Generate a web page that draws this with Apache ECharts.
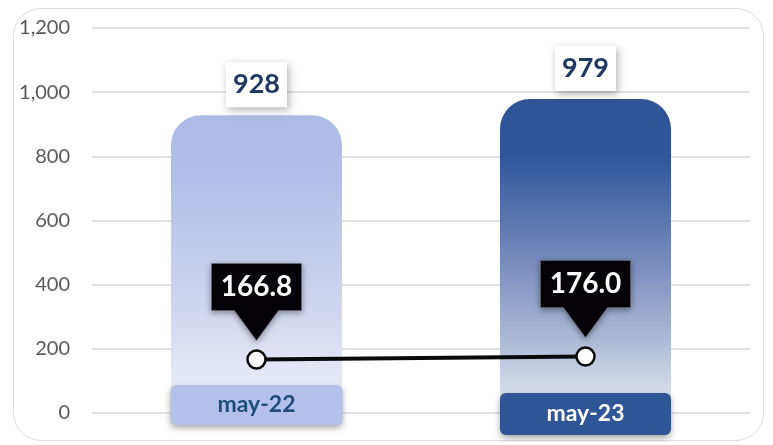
<!DOCTYPE html>
<html>
<head>
<meta charset="utf-8">
<script src="https://cdn.jsdelivr.net/npm/echarts@6/dist/echarts.min.js"></script>
<style>
  html, body { margin: 0; padding: 0; background: #fff; }
  #card {
    position: absolute; left: 13px; top: 8px; width: 751px; height: 433px;
    border: 1.5px solid #dedede; border-radius: 28px; box-sizing: border-box;
  }
  #chart { position: absolute; left: 0; top: 0; width: 773px; height: 445px; }
</style>
</head>
<body>
<div id="card"></div>
<div id="chart"></div>
<script>
const categories = ['may-22', 'may-23']
const barValues = [928, 979]
const lineValues = [166.8, 176.0]
const yTicks = { min: 0, max: 1200, interval: 200 }

const barColors = [
  new echarts.graphic.LinearGradient(0, 0, 0, 1, [
    { offset: 0, color: '#aebbe6' },
    { offset: 0.2, color: '#b2bee8' },
    { offset: 0.65, color: '#d0d6ef' },
    { offset: 1, color: '#f0f1f8' },
  ]),
  new echarts.graphic.LinearGradient(0, 0, 0, 1, [
    { offset: 0, color: '#2f5597' },
    { offset: 0.18, color: '#30569a' },
    { offset: 0.5, color: '#7388bb' },
    { offset: 0.78, color: '#b0bcd7' },
    { offset: 1, color: '#e8ebf3' },
  ]),
]

const chart = echarts.init(document.getElementById('chart'))

chart.setOption({
  animation: false,
  grid: { left: 92, right: 23, top: 28, bottom: 32 },
  xAxis: {
    type: 'category',
    data: categories,
    z: 10,
    axisLine: { show: false },
    axisTick: { show: false },
    axisLabel: {
      margin: -28,
      interval: 0,
      formatter: (v, i) => (i === 0 ? `{a|${v}}` : `{gap| }\n{b|${v}}`),
      rich: {
        a: {
          width: 172, height: 40, lineHeight: 40, align: 'center',
          backgroundColor: '#b4c1ea', borderRadius: 6,
          color: '#1f4e79', fontSize: 23, fontWeight: 'bold', fontFamily: 'Lato',
          shadowBlur: 6, shadowColor: 'rgba(0,0,0,0.35)', shadowOffsetY: 3,
        },
        b: {
          width: 171, height: 42, lineHeight: 42, align: 'center',
          backgroundColor: '#2f5597', borderRadius: 6,
          color: '#ffffff', fontSize: 23, fontWeight: 'bold', fontFamily: 'Lato',
          shadowBlur: 6, shadowColor: 'rgba(0,0,0,0.35)', shadowOffsetY: 3,
        },
        gap: { height: 8, lineHeight: 8, fontSize: 1 },
      },
    },
  },
  yAxis: {
    type: 'value',
    min: yTicks.min,
    max: yTicks.max,
    interval: yTicks.interval,
    axisLine: { show: false },
    axisTick: { show: false },
    splitLine: { lineStyle: { color: '#d9d9d9', width: 1.5 } },
    axisLabel: {
      margin: 22,
      color: '#595959',
      fontSize: 20,
      fontFamily: 'Lato',
      formatter: (v) => v.toLocaleString('en-US'),
    },
  },
  series: [
    {
      type: 'bar',
      barWidth: '52%',
      data: barValues.map((v, i) => ({ value: v, itemStyle: { color: barColors[i] } })),
      itemStyle: { borderRadius: [30, 30, 0, 0] },
      label: {
        show: true,
        position: 'top',
        distance: 8,
        color: '#1f3864',
        fontSize: 27,
        fontWeight: 'bold',
        fontFamily: 'Lato',
        backgroundColor: '#ffffff',
        padding: [9, 7, 9, 7],
        lineHeight: 27,
        shadowBlur: 8,
        shadowColor: 'rgba(0,0,0,0.3)',
        shadowOffsetX: 2,
        shadowOffsetY: 3,
      },
    },
    {
      type: 'line',
      data: lineValues,
      z: 5,
      symbol: 'circle',
      symbolSize: 18,
      lineStyle: { color: '#0a0a0a', width: 4 },
      itemStyle: { color: '#ffffff', borderColor: '#0a0a0a', borderWidth: 2.5 },
      markPoint: {
        symbol: 'path://M0,0H90V47H67L45,77L23,47H0Z',
        symbolSize: [90, 77],
        symbolOffset: [0, -57.5],
        itemStyle: {
          color: '#050308',
          borderColor: '#777',
          borderWidth: 0.5,
          shadowBlur: 6,
          shadowColor: 'rgba(0,0,0,0.4)',
          shadowOffsetY: 2,
        },
        label: {
          show: true,
          offset: [0, -15],
          color: '#ffffff',
          fontSize: 28,
          fontWeight: 'bold',
          fontFamily: 'Lato',
          formatter: (p) => Number(p.value).toFixed(1),
        },
        data: lineValues.map((v, i) => ({ coord: [i, v], value: v })),
      },
    },
  ],
})
</script>
</body>
</html>
